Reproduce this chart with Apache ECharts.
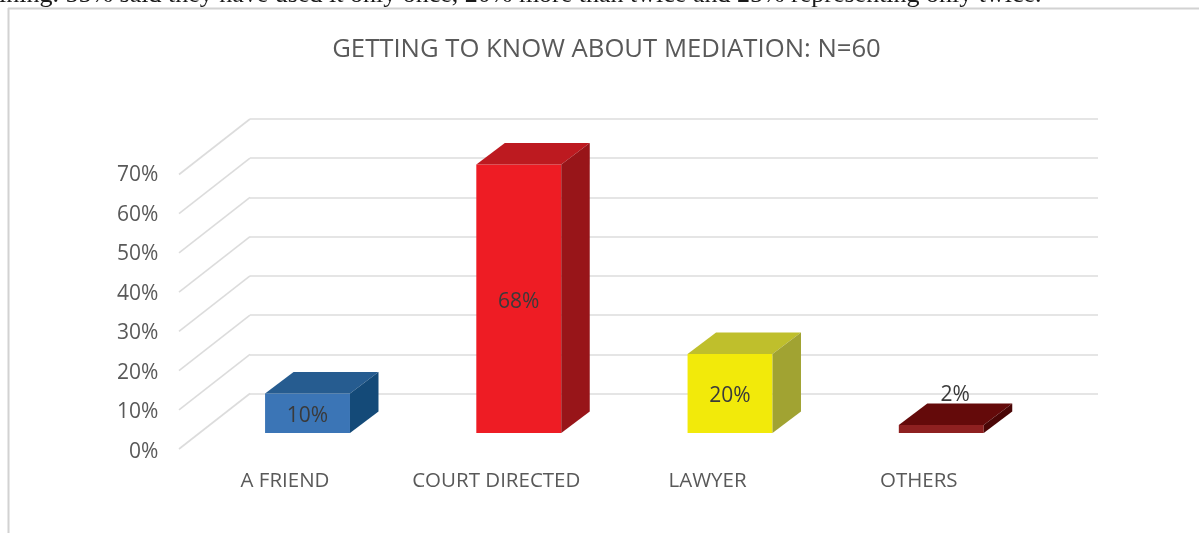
<!DOCTYPE html>
<html>
<head>
<meta charset="utf-8">
<style>html,body{margin:0;padding:0;background:#fff;}#c{width:1199px;height:533px;}</style>
<script src="https://cdn.jsdelivr.net/npm/echarts@6/dist/echarts.min.js"></script>
</head>
<body>
<div id="c"></div>
<script>
const categories = ['A FRIEND', 'COURT DIRECTED', 'LAWYER', 'OTHERS'];
const shares = [10, 68, 20, 2];
const wallTicks = [0, 10, 20, 30, 40, 50, 60, 70];
const chartTitle = 'GETTING TO KNOW ABOUT MEDIATION: N=60';
const bodyText = 'ining. 55% said they have used it only once, 20% more than twice and 25% representing only twice.';

const frontColors = ['#3b75b6', '#ee1c24', '#f2ea0a', '#8e2020'];
const topColors = ['#265c90', '#bd1a20', '#bfbf2c', '#640a0a'];
const sideColors = ['#144a78', '#981519', '#a1a332', '#4a0606'];

const chart = echarts.init(document.getElementById('c'), null, {renderer: 'canvas'});
const FONT = '"Open Sans", sans-serif';

function renderBar(params, api) {
  const i = api.value(0), v = api.value(1);
  const band = api.size([1, 0])[0];
  const w = band * 0.402;
  const base = api.coord([i, 0]);
  const top = api.coord([i, v]);
  // the bars stand a little way back from the front of the floor
  const sx = 22.5, sy = -19, dx = 28.5, dy = -21.5;
  const l = base[0] + sx - w / 2, r = l + w;
  const y0 = base[1] + sy, y1 = top[1] + sy;
  const poly = (pts, fill) => ({type: 'polygon', shape: {points: pts}, style: {fill: fill}});
  const small = v < 5;
  return {
    type: 'group',
    children: [
      poly([[l, y0], [r, y0], [r, y1], [l, y1]], frontColors[i]),
      poly([[l, y1], [r, y1], [r + dx, y1 + dy], [l + dx, y1 + dy]], topColors[i]),
      poly([[r, y0], [r + dx, y0 + dy], [r + dx, y1 + dy], [r, y1]], sideColors[i]),
      {
        type: 'text',
        z2: 5,
        style: {
          x: small ? (l + r) / 2 + 14 : (l + r) / 2,
          y: small ? y1 + dy - 9 : (y0 + y1) / 2 + 3,
          text: v + '%',
          align: 'center',
          verticalAlign: 'middle',
          fill: '#3a3a3a',
          font: '21px ' + FONT
        }
      }
    ]
  };
}

function renderSideLine(params, api) {
  const p = api.coord([0, api.value(0)]);
  const x = params.coordSys.x;
  return {
    type: 'line',
    shape: {x1: x, y1: p[1], x2: x - 71, y2: p[1] + 55.5},
    style: {stroke: '#dcdcdc', lineWidth: 1.6, fill: null}
  };
}

chart.setOption({
  animation: false,
  backgroundColor: '#ffffff',
  title: {
    text: chartTitle,
    left: 601.5,
    top: 32,
    textAlign: 'center',
    textStyle: {fontFamily: FONT, fontSize: 25.7, fontWeight: 'normal', color: '#595959'}
  },
  grid: [
    {left: 179.4, top: 175.5, width: 845, height: 276.5},
    {left: 250, top: 119, width: 848, height: 274.5}
  ],
  xAxis: [
    {
      type: 'category', gridIndex: 0, data: categories,
      axisLine: {show: false}, axisTick: {show: false},
      axisLabel: {margin: 19, fontFamily: FONT, fontSize: 20.5, color: '#595959', interval: 0},
      splitLine: {show: false}
    },
    {type: 'category', gridIndex: 1, data: categories, show: false}
  ],
  yAxis: [
    {
      type: 'value', gridIndex: 0, min: 0, max: 70, interval: 10,
      axisLine: {show: false}, axisTick: {show: false}, splitLine: {show: false},
      axisLabel: {margin: 21, formatter: '{value}%', fontFamily: FONT, fontSize: 21, color: '#595959'}
    },
    {
      type: 'value', gridIndex: 1, min: 0, max: 70, interval: 10,
      axisLine: {show: false}, axisTick: {show: false}, axisLabel: {show: false},
      splitLine: {show: true, lineStyle: {color: '#dcdcdc', width: 1.6}}
    }
  ],
  series: [
    {
      type: 'custom', xAxisIndex: 1, yAxisIndex: 1, clip: false, silent: true, z: 1,
      renderItem: renderSideLine,
      data: wallTicks.map(t => [t]),
      encode: {y: 0}
    },
    {
      type: 'custom', xAxisIndex: 0, yAxisIndex: 0, clip: false, silent: true, z: 3,
      renderItem: renderBar,
      data: shares.map((v, i) => [i, v]),
      encode: {x: 0, y: 1}
    }
  ],
  graphic: [
    {type: 'text', left: -1, top: -18, silent: true,
      style: {text: bodyText, font: '26px "Liberation Serif", serif', fill: '#1a1a1a'}},
    {type: 'line', silent: true, shape: {x1: 8, y1: 8.5, x2: 1199, y2: 8.5}, style: {stroke: '#d2d2d2', lineWidth: 2}},
    {type: 'line', silent: true, shape: {x1: 8.5, y1: 8, x2: 8.5, y2: 533}, style: {stroke: '#d2d2d2', lineWidth: 2}}
  ]
});
</script>
</body>
</html>
